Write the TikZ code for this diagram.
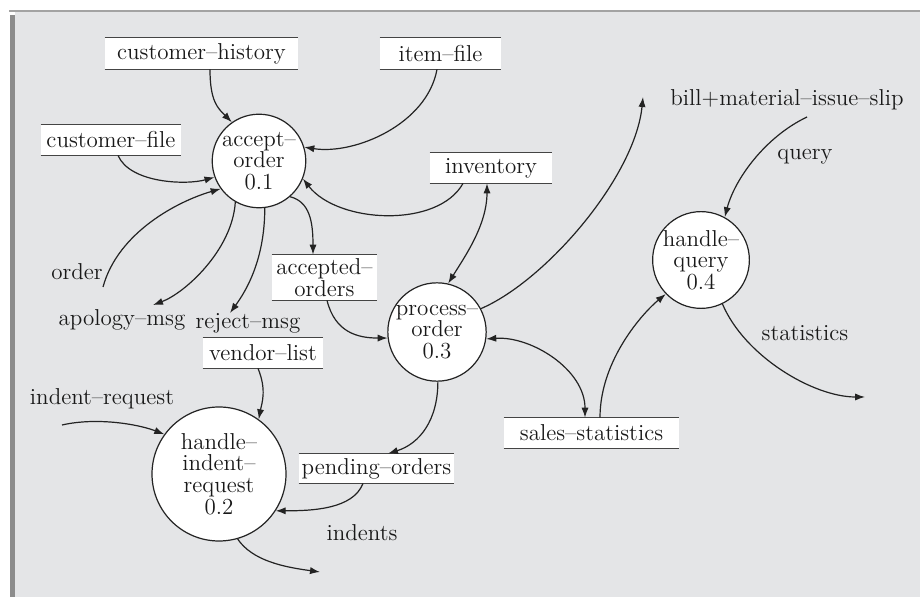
\documentclass[tikz,border=0pt]{standalone}
\usetikzlibrary{arrows.meta}
\definecolor{bgc}{RGB}{228,229,231}
\definecolor{linec}{RGB}{35,35,35}
\definecolor{framec}{RGB}{140,140,140}
\begin{document}
\begin{tikzpicture}[x=0.5pt,y=-0.5pt,
  every node/.style={font=\fontsize{11.5}{10.8}\selectfont, text=black!90},
  proc/.style={circle, draw=linec, fill=white, line width=0.6pt, inner sep=0pt, align=center},
  store/.style={fill=white, inner sep=0pt, align=center},
  lbl/.style={inner sep=1pt},
  flow/.style={draw=linec, line width=0.6pt, -{Latex[length=5pt,width=3.6pt]}},
  bflow/.style={draw=linec, line width=0.6pt, {Latex[length=5pt,width=3.6pt]}-{Latex[length=5pt,width=3.6pt]}},
  sline/.style={draw=linec!85, line width=0.7pt}]
\useasboundingbox (0,0) rectangle (920,597);
% frame and background
\fill[white] (0,0) rectangle (920,597);
\fill[bgc] (15,12) rectangle (920,597);
\draw[framec!80, line width=1pt] (9,11) -- (920,11);
\fill[framec] (10,15) rectangle (15,597);

% processes
\node[proc, minimum size=46pt] (acc) at (259,161) {accept--\\order\\0.1};
\node[proc, minimum size=46pt] (po) at (437,332) {process--\\order\\0.3};
\node[proc, minimum size=47pt] (hq) at (701,260) {handle--\\query\\0.4};
\node[proc, minimum size=67pt] (hir) at (219,474) {handle--\\indent--\\request\\0.2};

% stores
\node[store, minimum width=96.5pt, minimum height=15.5pt] (ch) at (201.5,53.5) {customer--history};
\node[store, minimum width=60.5pt, minimum height=15.5pt] (if) at (440.5,53.5) {item--file};
\node[store, minimum width=70pt, minimum height=15pt] (cf) at (111,140) {customer--file};
\node[store, minimum width=61pt, minimum height=15pt] (inv) at (491,168) {inventory};
\node[store, minimum width=52.5pt, minimum height=22.5pt] (ao) at (324.5,277.5) {accepted--\\orders};
\node[store, minimum width=60pt, minimum height=15pt] (vl) at (263,353) {vendor--list};
\node[store, minimum width=77.5pt, minimum height=14.5pt] (pend) at (376.5,468.5) {pending--orders};
\node[store, minimum width=87.5pt, minimum height=15pt] (ss) at (591.5,433) {sales--statistics};
\foreach \n in {ch,if,cf,inv,ao,vl,pend,ss}
  \draw[sline] (\n.north west) -- (\n.north east) (\n.south west) -- (\n.south east);

% free labels
\node[lbl] (lbill) at (787,100) {bill+material--issue--slip};
\node[lbl] (lquery) at (805,157) {query};
\node[lbl] (lstat) at (805,333) {statistics};
\node[lbl] (lorder) at (77,272) {order};
\node[lbl] (lapo) at (122,320) {apology--msg};
\node[lbl] (lrej) at (248,323) {reject--msg};
\node[lbl] (lir) at (102,399) {indent--request};
\node[lbl] (lind) at (362,533) {indents};

% free ends
\coordinate (ordS) at (103,287);
\coordinate (apoE) at (153,305);
\coordinate (rejE) at (230,313);
\coordinate (billE) at (643,97);
\coordinate (qS) at (807,117);
\coordinate (statE) at (865,397);
\coordinate (irS) at (62,425);
\coordinate (indE) at (320,572);

% flows into accept-order
\draw[flow] ([xshift=4.25pt]ch.south) .. controls +(0,32) and +(-14,-14) .. (acc.125);
\draw[flow] ([xshift=-1.75pt]if.south) .. controls +(-10,55) and +(50,8) .. (acc.17);
\draw[flow] ([xshift=3.5pt]cf.south) .. controls +(12,28) and +(-28,8) .. (acc.200);
\draw[flow] (ordS) .. controls +(15,-55) and +(-42,12) .. (acc.216);
\draw[flow] ([xshift=-14pt]inv.south) .. controls +(-25,45) and +(35,45) .. (acc.338);
% flows out of accept-order
\draw[flow] (acc.240) .. controls +(-3,48) and +(32,-12) .. (apoE);
\draw[flow] (acc.277) .. controls +(0,52) and +(16,-22) .. (rejE);
\draw[flow] (acc.311) .. controls +(20,5) and +(0,-32) .. ([xshift=-5.75pt]ao.north);
% process-order
\draw[bflow] ([xshift=-2pt]inv.south) .. controls +(0,42) and +(16,-26) .. (po.77);
\draw[flow] ([xshift=1.25pt]ao.south) .. controls +(8,32) and +(-30,0) .. (po.187);
\draw[flow] (po.28) .. controls +(65,-28) and +(-8,80) .. (billE);
\draw[bflow] (po.352) .. controls +(45,-3) and +(0,-48) .. ([xshift=-3.25pt]ss.north);
\draw[flow] (po.271) .. controls +(0,38) and +(32,-10) .. ([xshift=5.75pt]pend.north);
% handle-query
\draw[flow] ([xshift=4.25pt]ss.north) .. controls +(0,-58) and +(-22,18) .. (hq.224);
\draw[flow] (qS) .. controls +(-42,20) and +(10,-38) .. (hq.61);
\draw[flow] (hq.296) .. controls +(22,52) and +(-52,0) .. (statE);
% handle-indent-request
\draw[flow] ([xshift=-2.5pt]vl.south) .. controls +(9,22) and +(3,-16) .. (hir.54);
\draw[flow] (irS) .. controls +(35,-8) and +(-26,-10) .. (hir.144);
\draw[flow] ([xshift=-6.75pt]pend.south) .. controls +(-10,26) and +(36,0) .. (hir.327);
\draw[flow] (hir.286) .. controls +(15,22) and +(-36,-5) .. (indE);
\end{tikzpicture}
\end{document}
